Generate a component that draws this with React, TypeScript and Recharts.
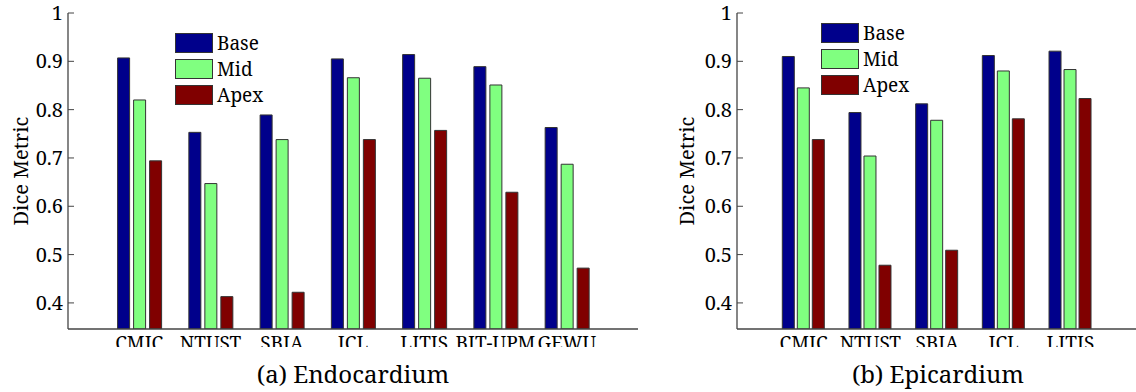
import React from 'react';
import { BarChart, Bar, XAxis, YAxis, Legend } from 'recharts';

// (a) Endocardium
const endoSites = ['CMIC', 'NTUST', 'SBIA', 'ICL', 'LITIS', 'BIT-UPM', 'GEWU'];
const endoBase = [0.907, 0.753, 0.789, 0.905, 0.914, 0.889, 0.763];
const endoMid = [0.82, 0.647, 0.738, 0.866, 0.865, 0.851, 0.687];
const endoApex = [0.694, 0.413, 0.422, 0.738, 0.757, 0.629, 0.472];

// (b) Epicardium
const epiSites = ['CMIC', 'NTUST', 'SBIA', 'ICL', 'LITIS'];
const epiBase = [0.91, 0.794, 0.812, 0.912, 0.921];
const epiMid = [0.845, 0.704, 0.778, 0.88, 0.883];
const epiApex = [0.738, 0.478, 0.509, 0.781, 0.823];

const yTicks = [0.4, 0.5, 0.6, 0.7, 0.8, 0.9, 1];

const series = [
  { key: 'Base', color: '#00008b' },
  { key: 'Mid', color: '#80ff80' },
  { key: 'Apex', color: '#800000' },
];

// only serif face that resolves in the sandbox
const FONT = 'Noto Serif';
const AXIS = '#444';

const buildRows = (sites: string[], base: number[], mid: number[], apex: number[]) =>
  sites.map((name, i) => ({ name, Base: base[i], Mid: mid[i], Apex: apex[i] }));

const LegendBox = ({ payload }: any) => {
  const items = [...(payload || [])].sort(
    (a: any, b: any) =>
      series.findIndex((s) => s.key === a.value) - series.findIndex((s) => s.key === b.value)
  );
  return (
    <div style={{ fontFamily: FONT, fontSize: 19, color: '#000' }}>
      {items.map((p: any) => (
        <div key={p.value} style={{ display: 'flex', alignItems: 'center', height: 26 }}>
          <span
            style={{
              display: 'inline-block',
              width: 36,
              height: 18,
              background: p.color,
              border: '1px solid #333',
              marginRight: 4,
            }}
          />
          <span>{p.value}</span>
        </div>
      ))}
    </div>
  );
};

const noTick = () => <g />;

type PanelProps = {
  rows: any[];
  width: number;
  left: number;
  marginLeft: number;
  marginRight: number;
  pad: number;
  barSize: number;
  barGap: number;
  legendLeft: number;
  legendTop: number;
};

const Panel = (p: PanelProps) => (
  <div style={{ position: 'absolute', left: p.left, top: 0, width: p.width, height: 347, overflow: 'hidden' }}>
    <BarChart
      width={p.width}
      height={370}
      data={p.rows}
      margin={{ top: 13, right: p.marginRight, left: p.marginLeft, bottom: 0 }}
      barSize={p.barSize}
      barGap={p.barGap}
    >
      <XAxis
        dataKey="name"
        height={41}
        padding={{ left: p.pad, right: p.pad }}
        axisLine={{ stroke: AXIS, strokeWidth: 1.3 }}
        tickLine={false}
        tickSize={0}
        tickMargin={8}
        interval={0}
        tick={{ fill: '#000', fontSize: 19, fontFamily: FONT }}
      />
      <XAxis
        xAxisId="top"
        orientation="top"
        dataKey="name"
        height={0}
        padding={{ left: p.pad, right: p.pad }}
        axisLine={{ stroke: AXIS, strokeWidth: 1.3 }}
        tickLine={{ stroke: AXIS }}
        tickSize={-6}
        interval={0}
        tick={noTick}
      />
      <YAxis
        width={60}
        domain={[0.346, 1]}
        allowDataOverflow
        ticks={yTicks}
        tickFormatter={(v: number) => (v === 1 ? '1' : v.toFixed(1))}
        axisLine={{ stroke: AXIS, strokeWidth: 1.3 }}
        tickLine={{ stroke: AXIS }}
        tickSize={-6}
        tickMargin={11}
        tick={{ fill: '#000', fontSize: 20, fontFamily: FONT }}
      />
      <YAxis
        yAxisId="right"
        orientation="right"
        width={0}
        domain={[0.346, 1]}
        allowDataOverflow
        ticks={yTicks}
        axisLine={{ stroke: AXIS, strokeWidth: 1.3 }}
        tickLine={{ stroke: AXIS }}
        tickSize={-5}
        tick={noTick}
      />
      <Legend
        layout="vertical"
        align="center"
        verticalAlign="middle"
        wrapperStyle={{ left: p.legendLeft, top: p.legendTop, width: 'auto' }}
        content={<LegendBox />}
      />
      {series.map((s) => (
        <Bar
          key={s.key}
          dataKey={s.key}
          fill={s.color}
          stroke="#333"
          strokeWidth={1}
          isAnimationActive={false}
        />
      ))}
    </BarChart>
  </div>
);

export default function App() {
  return (
    <div
      style={{
        position: 'absolute',
        left: 0,
        top: 0,
        width: 1136,
        height: 392,
        background: '#fff',
        overflow: 'hidden',
        fontFamily: FONT,
      }}
    >
      <Panel
        rows={buildRows(endoSites, endoBase, endoMid, endoApex)}
        width={650}
        left={0}
        marginLeft={8}
        marginRight={12}
        pad={35.6}
        barSize={12}
        barGap={4}
        legendLeft={175}
        legendTop={30}
      />
      <Panel
        rows={buildRows(epiSites, epiBase, epiMid, epiApex)}
        width={470}
        left={676}
        marginLeft={1}
        marginRight={9}
        pad={33.3}
        barSize={12}
        barGap={3}
        legendLeft={145}
        legendTop={20}
      />
      <svg
        width={1136}
        height={392}
        style={{ position: 'absolute', left: 0, top: 0, pointerEvents: 'none' }}
      >
        <text
          transform="translate(28,171) rotate(-90)"
          textAnchor="middle"
          style={{ fontFamily: FONT, fontSize: 20 }}
          fill="#000"
        >
          Dice Metric
        </text>
        <text
          transform="translate(694,171) rotate(-90)"
          textAnchor="middle"
          style={{ fontFamily: FONT, fontSize: 20 }}
          fill="#000"
        >
          Dice Metric
        </text>
        <text x={353} y={383} textAnchor="middle" style={{ fontFamily: FONT, fontSize: 24 }} fill="#000">
          (a) Endocardium
        </text>
        <text x={938} y={383} textAnchor="middle" style={{ fontFamily: FONT, fontSize: 24 }} fill="#000">
          (b) Epicardium
        </text>
      </svg>
    </div>
  );
}
